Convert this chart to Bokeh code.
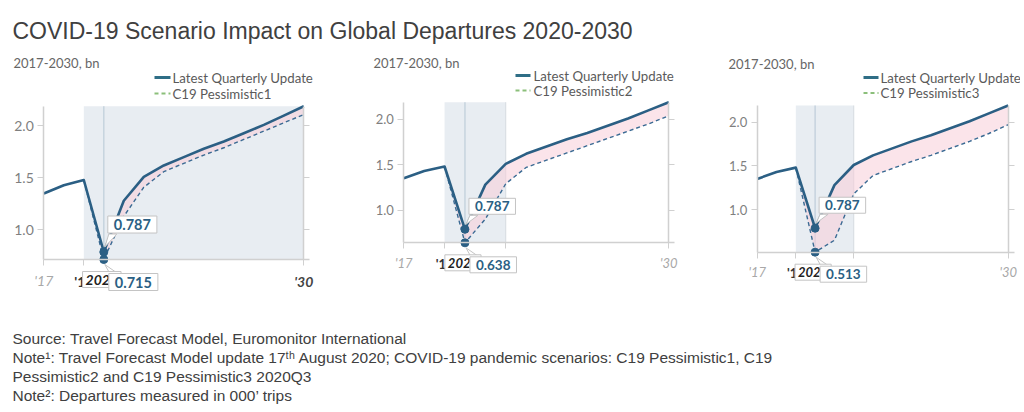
from bokeh.plotting import figure
from bokeh.models import (Range1d, LinearAxis, Label, BoxAnnotation, FixedTicker, Arrow,
                          PrintfTickFormatter)
from bokeh.layouts import column, row
from bokeh.embed import file_html
from bokeh.resources import INLINE

# ---------------- data ----------------
years = [2017, 2018, 2019, 2020, 2021, 2022, 2023, 2024, 2025, 2026, 2027, 2028, 2029, 2030]
latest = [1.35, 1.43, 1.48, 0.787, 1.28, 1.51, 1.62, 1.70, 1.78, 1.85, 1.93, 2.01, 2.10, 2.19]
scen_years = [2019, 2020, 2021, 2022, 2023, 2024, 2025, 2026, 2027, 2028, 2029, 2030]
pess1 = [1.48, 0.715, 1.13, 1.41, 1.56, 1.64, 1.72, 1.79, 1.87, 1.95, 2.03, 2.11]
pess2 = [1.48, 0.638, 0.90, 1.29, 1.47, 1.55, 1.63, 1.71, 1.79, 1.87, 1.95, 2.04]
pess3 = [1.48, 0.513, 0.65, 1.18, 1.39, 1.47, 1.55, 1.62, 1.70, 1.78, 1.87, 1.97]
scenarios = [pess1, pess2, pess3]
scenario_names = ["C19 Pessimistic1", "C19 Pessimistic2", "C19 Pessimistic3"]
latest_name = "Latest Quarterly Update"
band_end = [2030, 2022, 2022]
focus_year = 2020
y_ticks = [1.0, 1.5, 2.0]
x_tick_labels = {2017: "'17", 2019: "'19", 2030: "'30"}
subtitle = "2017-2030, bn"
title = "COVID-19 Scenario Impact on Global Departures 2020-2030"
notes = [
    "Source: Travel  Forecast Model,  Euromonitor  International",
    "Note\u00b9: Travel  Forecast Model  update  17\u1d57\u02b0 August  2020;  COVID-19  pandemic  scenarios:  C19  Pessimistic1,  C19",
    "Pessimistic2 and C19 Pessimistic3 2020Q3",
    "Note\u00b2:  Departures  measured  in  000\u2019 trips",
]

# ---------------- layout / style ----------------
TOP, H = 50, 255
PX = [0, 344, 680]          # left edge of each panel figure on the page
PW = [344, 336, 340]        # width of each panel figure
# data area of each panel on the page: left, top, right, bottom (pixels)
geo = [
    dict(box=(43.3, 105.7, 303.3, 259.0), fs=14, sub=(13, 62.5), leg=(154, 170, 172, 77, 93), bold30=True, up=18),
    dict(box=(403.3, 101.7, 668.3, 242.3), fs=13, sub=(373, 62.5), leg=(515, 530, 533, 75, 90), bold30=False, up=14),
    dict(box=(756.7, 105.0, 1007.7, 251.7), fs=13, sub=(728, 63.5), leg=(863, 878, 880, 77, 92.5), bold30=False, up=14),
]
LINE = "#2b5f84"
AX = "#d0d0d0"
BOXLINE = "#c4c4c4"
FONT = "Lato"


def build_panel(i):
    g = geo[i]
    scen = scenarios[i]
    ymin, ymax = min(scen), max(latest)
    fx, fy, W = PX[i], TOP, PW[i]
    L, T, R, B = g["box"]
    kx = (R - L) / (years[-1] - years[0])
    ky = (B - T) / (ymax - ymin)
    xr = Range1d(years[0] - (L - fx) / kx, years[-1] + (fx + W - R) / kx)
    yr = Range1d(ymin - (fy + H - B) / ky, ymax + (T - fy) / ky)

    p = figure(width=W, height=H, x_range=xr, y_range=yr, output_backend="svg",
               toolbar_location=None, min_border=0)
    p.outline_line_color = None
    p.grid.visible = False

    def sx(px):
        return px - fx

    def sy(py):
        return fy + H - py

    # y axis (left), drawn at the data edge
    ya = p.yaxis[0]
    ya.fixed_location = years[0]
    ya.bounds = (ymin, ymax)
    ya.ticker = FixedTicker(ticks=y_ticks)
    ya.formatter = PrintfTickFormatter(format="%.1f")
    ya.axis_line_color = AX
    ya.axis_line_width = 1.5
    ya.major_tick_line_color = AX
    ya.major_tick_out = 6
    ya.major_tick_in = 0
    ya.minor_tick_line_color = None
    ya.major_label_text_font = FONT
    ya.major_label_text_font_size = f"{g['fs']}px"
    ya.major_label_text_color = "#7f7f7f"
    ya.major_label_standoff = 4

    # right axis: line + ticks only
    ra = LinearAxis(ticker=FixedTicker(ticks=[], minor_ticks=y_ticks), fixed_location=years[-1],
                    bounds=(ymin, ymax), axis_line_color=AX, axis_line_width=1.5,
                    minor_tick_line_color=AX, minor_tick_out=6, minor_tick_in=0,
                    minor_tick_line_width=1, major_tick_line_color=None)
    p.add_layout(ra, "right")

    # x axis
    light = [2017] if g["bold30"] else [2017, 2030]
    minor = [2019, 2030] if g["bold30"] else [2019, band_end[i]]
    xa = p.xaxis[0]
    xa.fixed_location = ymin
    xa.bounds = (years[0], years[-1] + 6 / kx)
    xa.ticker = FixedTicker(ticks=light, minor_ticks=minor)
    xa.major_label_overrides = {t: x_tick_labels[t] for t in light}
    xa.axis_line_color = AX
    xa.axis_line_width = 1.5
    xa.major_tick_line_color = AX
    xa.major_tick_out = 6
    xa.major_tick_in = 0
    xa.minor_tick_line_color = AX
    xa.minor_tick_out = 6
    xa.minor_tick_in = 0
    xa.major_label_text_font = FONT
    xa.major_label_text_font_style = "italic"
    xa.major_label_text_font_size = f"{g['fs']}px"
    xa.major_label_text_color = "#a8a8a8"
    xa.major_label_standoff = 6

    # shaded band + focus line
    p.add_layout(BoxAnnotation(left=2019, right=band_end[i], bottom=ymin, top=ymax,
                               fill_color="#e8edf2", fill_alpha=1, line_color=None,
                               level="underlay"))
    if band_end[i] != years[-1]:
        p.segment(x0=[band_end[i]], y0=[ymin], x1=[band_end[i]], y1=[ymax],
                  line_color="#d6dbe0", line_width=1)
    p.segment(x0=[focus_year], y0=[ymin], x1=[focus_year], y1=[ymax],
              line_color="#c6d3de", line_width=1.5)

    # gap fill and lines
    lat_sub = latest[years.index(scen_years[0]):]
    p.varea(x=scen_years, y1=scen, y2=lat_sub, fill_color="#f7cdd8", fill_alpha=0.55)
    p.line(scen_years, scen, line_color="#3a6a93", line_width=1.4, line_dash="4 3")
    p.line(years, latest, line_color=LINE, line_width=2.6, line_join="round")
    fi = years.index(focus_year)
    si = scen_years.index(focus_year)
    v_hi, v_lo = latest[fi], scen[si]

    # callout tails (pixel offsets converted through the panel scale)
    up = g["up"]
    p.patch([focus_year + 5 / kx, focus_year + 13 / kx, focus_year + 1 / kx],
            [v_hi + up / ky, v_hi + up / ky, v_hi + 5 / ky],
            fill_color="white", line_color=BOXLINE, line_width=1)
    p.patch([focus_year + 6 / kx, focus_year + 14 / kx, focus_year + 1 / kx],
            [v_lo - 14 / ky, v_lo - 14 / ky, v_lo - 5 / ky],
            fill_color="white", line_color=BOXLINE, line_width=1)

    p.scatter([focus_year, focus_year], [v_hi, v_lo], size=8, color=LINE)

    # subtitle
    p.add_layout(Label(x=sx(g["sub"][0]), y=sy(g["sub"][1]), x_units="screen", y_units="screen",
                       text=subtitle, text_font=FONT, text_font_size="13px",
                       text_color="#666666", text_baseline="middle"))
    # legend
    x0, x1, xt, r1, r2 = g["leg"]
    p.add_layout(Arrow(end=None, x_start=sx(x0), y_start=sy(r1), x_end=sx(x1), y_end=sy(r1),
                       start_units="screen", end_units="screen", line_color="#2f6e86",
                       line_width=3))
    p.add_layout(Arrow(end=None, x_start=sx(x0), y_start=sy(r2), x_end=sx(x1), y_end=sy(r2),
                       start_units="screen", end_units="screen", line_color="#8bbf7a",
                       line_width=1.8, line_dash="4 3"))
    p.add_layout(Label(x=sx(xt), y=sy(r1), x_units="screen", y_units="screen",
                       text=latest_name, text_font=FONT, text_font_size="13.25px",
                       text_color="#5a5a5a", text_baseline="middle"))
    p.add_layout(Label(x=sx(xt), y=sy(r2), x_units="screen", y_units="screen",
                       text=scenario_names[i], text_font=FONT, text_font_size="13.25px",
                       text_color="#5a5a5a", text_baseline="middle"))

    # bold x tick labels
    p.add_layout(Label(x=2019, y=ymin, text=x_tick_labels[2019], text_font=FONT,
                       text_font_size=f"{g['fs']}px", text_font_style="bold",
                       text_color="#333333", text_align="center", text_baseline="top",
                       y_offset=-13))
    if g["bold30"]:
        p.add_layout(Label(x=2030, y=ymin, text=x_tick_labels[2030], text_font=FONT,
                           text_font_size=f"{g['fs']}px", text_font_style="bold italic",
                           text_color="#444444", text_align="center", text_baseline="top",
                           y_offset=-13))
    # crosshair year box
    p.add_layout(Label(x=focus_year, y=ymin, text=str(focus_year), text_font=FONT,
                       text_font_size=f"{g['fs']}px", text_font_style="bold italic",
                       text_color="#222222", text_align="center", text_baseline="top",
                       x_offset=-2, y_offset=-12, padding=3, background_fill_color="white",
                       border_line_color=BOXLINE, border_line_width=1))
    # value boxes
    vfs = f"{g['fs'] + 0.5}px"
    p.add_layout(Label(x=focus_year, y=v_hi, text=f"{v_hi:.3f}", text_font=FONT,
                       text_font_size=vfs, text_font_style="bold",
                       text_color=LINE, text_align="left", text_baseline="bottom",
                       x_offset=4, y_offset=up + 1, padding=dict(x=6, y=3),
                       background_fill_color="white",
                       border_line_color=BOXLINE, border_line_width=1))
    p.add_layout(Label(x=focus_year, y=v_lo, text=f"{v_lo:.3f}", text_font=FONT,
                       text_font_size=vfs, text_font_style="bold",
                       text_color=LINE, text_align="left", text_baseline="top",
                       x_offset=5, y_offset=-14, padding=dict(x=6, y=3),
                       background_fill_color="white",
                       border_line_color=BOXLINE, border_line_width=1))
    return p


panels = [build_panel(i) for i in range(3)]

tp = figure(width=1020, height=TOP, output_backend="svg", toolbar_location=None,
            x_range=Range1d(0, 1), y_range=Range1d(0, 1), min_border=0,
            x_axis_location=None, y_axis_location=None)
tp.outline_line_color = None
tp.grid.visible = False
tp.add_layout(Label(x=12, y=20, x_units="screen", y_units="screen", text=title,
                    text_font="Liberation Sans", text_font_size="23px", text_color="#404040",
                    text_baseline="alphabetic"))

NH = 100
npf = figure(width=1020, height=NH, output_backend="svg", toolbar_location=None,
             x_range=Range1d(0, 1), y_range=Range1d(0, 1), min_border=0,
             x_axis_location=None, y_axis_location=None)
npf.outline_line_color = None
npf.grid.visible = False
for k, t in enumerate(notes):
    npf.add_layout(Label(x=12, y=67 - 19 * k, x_units="screen", y_units="screen", text=t,
                         text_font="Liberation Sans", text_font_size="15.5px",
                         text_color="#404040", text_baseline="middle"))

layout = column(tp, row(*panels), npf)
open("out.html", "w").write(file_html(layout, INLINE))
